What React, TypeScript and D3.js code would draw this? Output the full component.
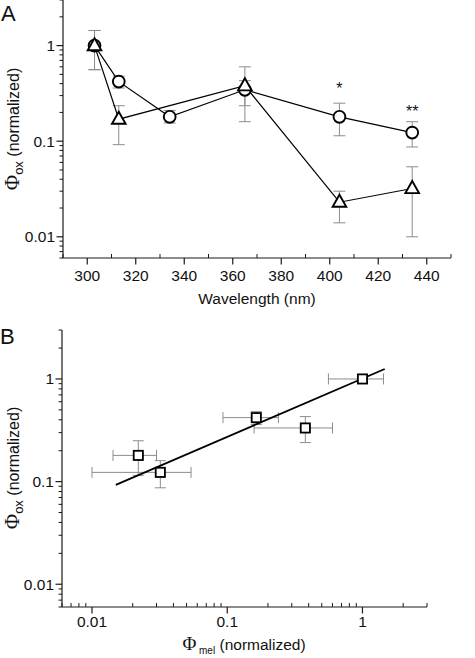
import React from 'react';
import * as d3 from 'd3';

// ---------- Panel A data ----------
const circleWavelengths = [303, 313, 334, 365, 404, 434];
const circleValues = [1, 0.42, 0.18, 0.345, 0.18, 0.123];
const circleLow = [0.56, 0.36, 0.155, 0.235, 0.114, 0.087];
const circleHigh = [1.44, 0.48, 0.21, 0.43, 0.25, 0.16];

const triangleWavelengths = [303, 313, 365, 404, 434];
const triangleValues = [1.0, 0.17, 0.38, 0.023, 0.032];
const triangleLow = [0.56, 0.092, 0.16, 0.014, 0.01];
const triangleHigh = [1.44, 0.235, 0.6, 0.03, 0.054];

const sigWavelengths = [404, 434];
const sigLevels = [0.31, 0.177];
const sigLabels = ['*', '**'];

const wavelengthTicks = [300, 320, 340, 360, 380, 400, 420, 440];
const wavelengthMinorTicks = [290, 310, 330, 350, 370, 390, 410, 430, 450];

// ---------- Panel B data ----------
const melValues = [1, 0.164, 0.378, 0.022, 0.032];
const melLow = [0.56, 0.093, 0.158, 0.0143, 0.01];
const melHigh = [1.43, 0.239, 0.6, 0.03, 0.054];
const oxValues = [1, 0.42, 0.333, 0.18, 0.123];
const oxLow = [1, 0.36, 0.24, 0.115, 0.087];
const oxHigh = [1, 0.48, 0.43, 0.25, 0.16];

const fitX = [0.015, 1.46];
const fitY = [0.093, 1.25];

const logTickValues = [0.01, 0.1, 1];
const logTickLabels = ['0.01', '0.1', '1'];

const FONT = 'Liberation Sans, Arial, Helvetica, sans-serif';
const SERIF = 'Liberation Serif, Times New Roman, serif';
const AXIS = '#1a1a1a';
const ERR = '#8c8c8c';

function logMinors(domain: number[]) {
  const [d0, d1] = domain;
  const out: number[] = [];
  for (let e = -4; e <= 1; e++) {
    for (let k = 2; k <= 9; k++) {
      const v = k * Math.pow(10, e);
      if (v >= d0 * 0.999 && v <= d1 * 1.001) out.push(v);
    }
  }
  return out;
}

function LogYAxis({ scale, x }: { scale: any; x: number }) {
  const r = scale.range();
  const minors = logMinors(scale.domain());
  return (
    <g>
      <line x1={x} x2={x} y1={r[0]} y2={r[1]} stroke={AXIS} strokeWidth={1.2} />
      {minors.map((v, i) => (
        <line key={'m' + i} x1={x - 3.5} x2={x} y1={scale(v)} y2={scale(v)} stroke={AXIS} strokeWidth={1} />
      ))}
      {logTickValues.map((v, i) => (
        <g key={'t' + i}>
          <line x1={x - 6.5} x2={x} y1={scale(v)} y2={scale(v)} stroke={AXIS} strokeWidth={1.2} />
          <text x={x - 8} y={scale(v) + 5.3} textAnchor="end" fontSize={15.5} fontFamily={FONT} fill="#111">
            {logTickLabels[i]}
          </text>
        </g>
      ))}
    </g>
  );
}

function Triangle({ cx, cy }: { cx: number; cy: number }) {
  const p = d3.path();
  p.moveTo(cx, cy - 7.5);
  p.lineTo(cx + 6.8, cy + 4.6);
  p.lineTo(cx - 6.8, cy + 4.6);
  p.closePath();
  return <path d={p.toString()} fill="white" stroke="#000" strokeWidth={1.9} strokeLinejoin="miter" />;
}

function VErr({ x, y1, y2, cap }: { x: number; y1: number; y2: number; cap: number }) {
  return (
    <g stroke={ERR} strokeWidth={1}>
      <line x1={x} x2={x} y1={y1} y2={y2} />
      <line x1={x - cap} x2={x + cap} y1={y1} y2={y1} />
      <line x1={x - cap} x2={x + cap} y1={y2} y2={y2} />
    </g>
  );
}

function HErr({ y, x1, x2, cap }: { y: number; x1: number; x2: number; cap: number }) {
  return (
    <g stroke={ERR} strokeWidth={1}>
      <line x1={x1} x2={x2} y1={y} y2={y} />
      <line x1={x1} x2={x1} y1={y - cap} y2={y + cap} />
      <line x1={x2} x2={x2} y1={y - cap} y2={y + cap} />
    </g>
  );
}

function YLabel({ cx, cy }: { cx: number; cy: number }) {
  return (
    <g transform={`translate(${cx},${cy}) rotate(-90)`}>
      <text textAnchor="middle" fontFamily={FONT} fontSize={16} fill="#111">
        <tspan fontFamily={SERIF} fontSize={21}>Φ</tspan>
        <tspan fontSize={13} dy={4}>ox</tspan>
        <tspan dy={-4}> (normalized)</tspan>
      </text>
    </g>
  );
}

export default function App() {
  // Panel A scales
  const xA = d3.scaleLinear().domain([290, 450]).range([63, 451]);
  const yA = d3.scaleLog().domain([0.006, 3]).range([258, 0]);
  // Panel B scales
  const xB = d3.scaleLog().domain([0.006, 3]).range([62, 427]);
  const yB = d3.scaleLog().domain([0.006, 3]).range([607, 330]);

  const lineA = d3.line<[number, number]>().x((d) => xA(d[0])).y((d) => yA(d[1]));
  const circlePath = lineA(circleWavelengths.map((w, i) => [w, circleValues[i]]));
  const trianglePath = lineA(triangleWavelengths.map((w, i) => [w, triangleValues[i]]));

  const lineB = d3.line<[number, number]>().x((d) => xB(d[0])).y((d) => yB(d[1]));
  const fitPath = lineB(fitX.map((v, i) => [v, fitY[i]]));

  const xMinorsB = logMinors(xB.domain());

  return (
    <svg width={475} height={658} style={{ position: 'absolute', left: 0, top: 0, background: 'white' }}>
      <rect x={0} y={0} width={475} height={658} fill="white" />

      {/* ---------------- Panel A ---------------- */}
      <text x={1} y={21} fontSize={22} fontFamily={FONT} fill="#111">A</text>

      <LogYAxis scale={yA} x={63} />
      <line x1={63} x2={451} y1={258} y2={258} stroke={AXIS} strokeWidth={1.2} />
      {wavelengthMinorTicks.map((w, i) => (
        <line key={'am' + i} x1={xA(w)} x2={xA(w)} y1={258} y2={254} stroke={AXIS} strokeWidth={1} />
      ))}
      {wavelengthTicks.map((w, i) => (
        <g key={'at' + i}>
          <line x1={xA(w)} x2={xA(w)} y1={258} y2={264.5} stroke={AXIS} strokeWidth={1.2} />
          <text x={xA(w)} y={281} textAnchor="middle" fontSize={15.5} fontFamily={FONT} fill="#111">{w}</text>
        </g>
      ))}
      <text x={257} y={304} textAnchor="middle" fontSize={15.5} fontFamily={FONT} fill="#111">Wavelength (nm)</text>

      <YLabel cx={19} cy={129} />

      {/* error bars */}
      {triangleWavelengths.map((w, i) => (
        <VErr key={'te' + i} x={xA(w)} y1={yA(triangleHigh[i])} y2={yA(triangleLow[i])} cap={6} />
      ))}
      {circleWavelengths.map((w, i) => (
        <VErr key={'ce' + i} x={xA(w)} y1={yA(circleHigh[i])} y2={yA(circleLow[i])} cap={6} />
      ))}

      {/* connecting lines */}
      <path d={circlePath || ''} fill="none" stroke="#000" strokeWidth={1.2} />
      <path d={trianglePath || ''} fill="none" stroke="#000" strokeWidth={1.2} />

      {/* markers */}
      {circleWavelengths.map((w, i) => (
        <circle key={'c' + i} cx={xA(w)} cy={yA(circleValues[i])} r={5.9} fill="white" stroke="#000" strokeWidth={1.9} />
      ))}
      {triangleWavelengths.map((w, i) => (
        <Triangle key={'t' + i} cx={xA(w)} cy={yA(triangleValues[i])} />
      ))}

      {sigWavelengths.map((w, i) => (
        <text key={'s' + i} x={xA(w)} y={yA(sigLevels[i])} textAnchor="middle" fontSize={16} fontFamily={FONT} fill="#111">
          {sigLabels[i]}
        </text>
      ))}

      {/* ---------------- Panel B ---------------- */}
      <text x={0} y={344} fontSize={22} fontFamily={FONT} fill="#111">B</text>

      <LogYAxis scale={yB} x={62} />
      <line x1={62} x2={427} y1={607} y2={607} stroke={AXIS} strokeWidth={1.2} />
      {xMinorsB.map((v, i) => (
        <line key={'bm' + i} x1={xB(v)} x2={xB(v)} y1={607} y2={603} stroke={AXIS} strokeWidth={1} />
      ))}
      {logTickValues.map((v, i) => (
        <g key={'bt' + i}>
          <line x1={xB(v)} x2={xB(v)} y1={607} y2={613.5} stroke={AXIS} strokeWidth={1.2} />
          <text x={xB(v)} y={627} textAnchor="middle" fontSize={15.5} fontFamily={FONT} fill="#111">{logTickLabels[i]}</text>
        </g>
      ))}

      <text x={244} y={650} textAnchor="middle" fontFamily={FONT} fontSize={15.5} fill="#111">
        <tspan fontFamily={SERIF} fontSize={19}>Φ</tspan>
        <tspan fontSize={10} dy={4}> mel</tspan>
        <tspan dy={-4}> (normalized)</tspan>
      </text>

      <YLabel cx={19} cy={468} />

      {melValues.map((m, i) => (
        <g key={'be' + i}>
          <HErr y={yB(oxValues[i])} x1={xB(melLow[i])} x2={xB(melHigh[i])} cap={5.5} />
          {oxLow[i] !== oxHigh[i] && (
            <VErr x={xB(m)} y1={yB(oxHigh[i])} y2={yB(oxLow[i])} cap={5.5} />
          )}
        </g>
      ))}

      <path d={fitPath || ''} fill="none" stroke="#000" strokeWidth={1.8} />

      {melValues.map((m, i) => (
        <rect key={'sq' + i} x={xB(m) - 4.6} y={yB(oxValues[i]) - 4.6} width={9.2} height={9.2} fill="white" stroke="#000" strokeWidth={1.8} />
      ))}
    </svg>
  );
}
